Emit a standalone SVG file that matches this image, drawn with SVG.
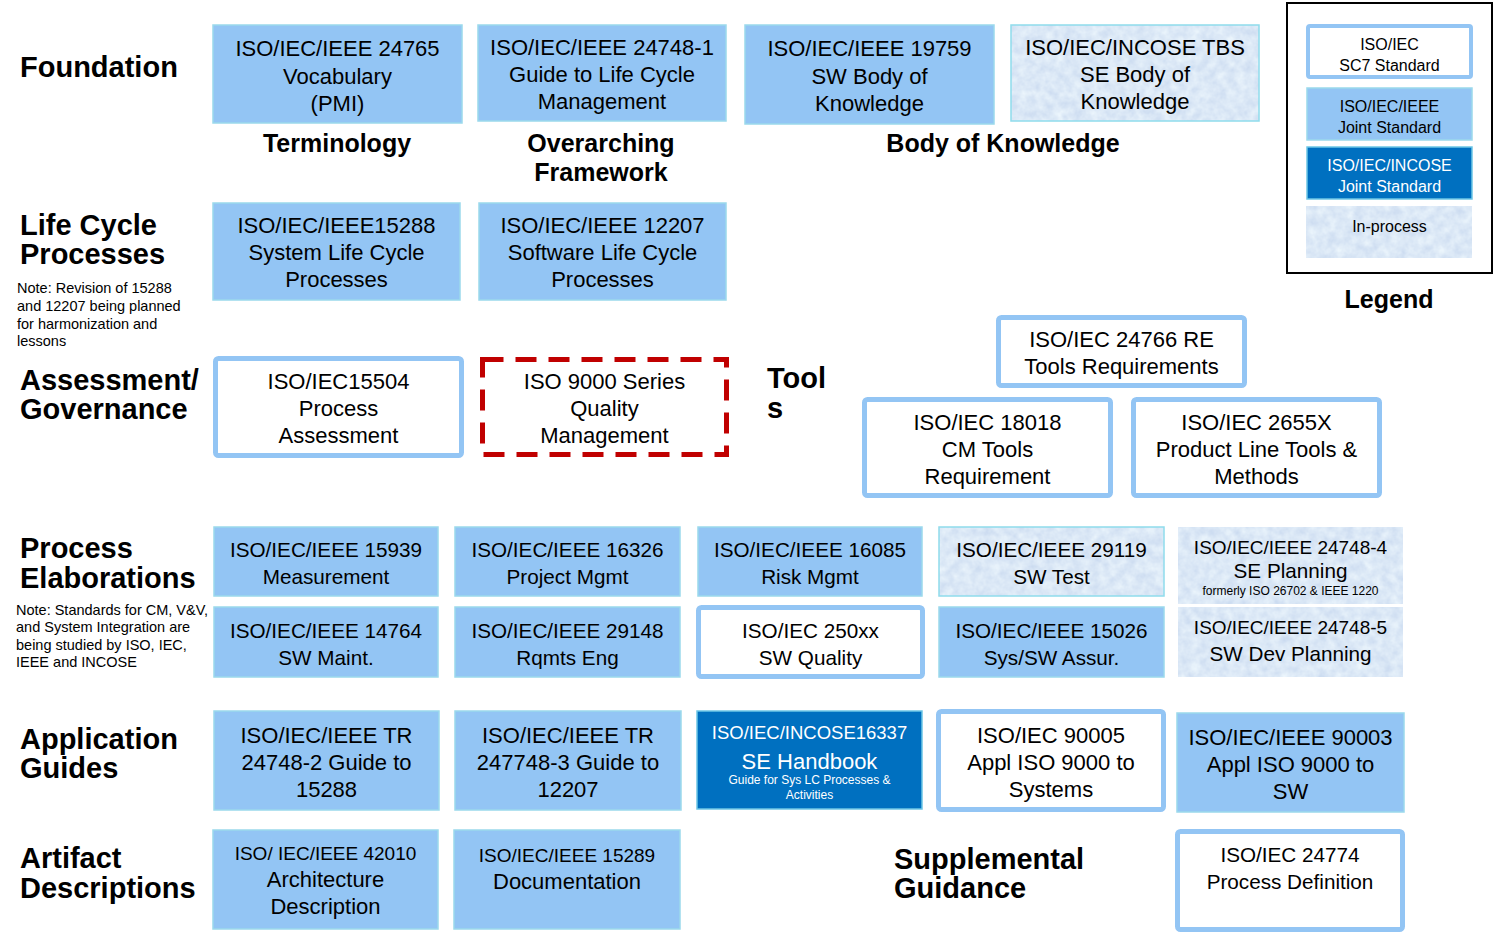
<svg xmlns="http://www.w3.org/2000/svg" width="1495" height="935" viewBox="0 0 1495 935">
<defs>
<style>
.f{fill:#93c5f4;stroke:#9bd9ec;stroke-width:1.5}
.o{fill:#fff;stroke:#93c5f4;stroke-width:5}
.d{fill:#0070c0;stroke:#6cc6e6;stroke-width:1.5}
.pb{fill:none;stroke:#8fdcec;stroke-width:1.5}
.q{fill:#fff;stroke:#c00000;stroke-width:5;stroke-dasharray:21 12}
text{font-family:"Liberation Sans",Arial,Helvetica,sans-serif;fill:#000}
.t{font-size:22px;text-anchor:middle}
.t21{font-size:20.7px;text-anchor:middle}
.t19{font-size:19px;text-anchor:middle}
.s{font-size:12px;text-anchor:middle}
.l{font-size:16px;text-anchor:middle}
.w{fill:#fff}
.h{font-size:29px;font-weight:bold}
.c{font-size:25px;font-weight:bold;text-anchor:middle}
.n{font-size:14.5px}
</style>
<filter id="tex" x="0" y="0" width="1" height="1" color-interpolation-filters="sRGB">
<feTurbulence type="fractalNoise" baseFrequency="0.11" numOctaves="3" seed="7"/>
<feColorMatrix type="matrix" values="0.16 0 0 0 0.78  0.13 0 0 0 0.845  0.06 0 0 0 0.935  0 0 0 0 1"/>
</filter>
</defs>
<rect width="1495" height="935" fill="#fff"/>

<g id="row-labels">
<text class="h" x="20" y="77">Foundation</text>
<text class="h" x="20" y="235">Life Cycle</text>
<text class="h" x="20" y="264">Processes</text>
<text class="n" x="17" y="293">Note: Revision of 15288</text>
<text class="n" x="17" y="311">and 12207 being planned</text>
<text class="n" x="17" y="329">for harmonization and</text>
<text class="n" x="17" y="346">lessons</text>
<text class="h" x="20" y="390">Assessment/</text>
<text class="h" x="20" y="419">Governance</text>
<text class="h" x="20" y="558">Process</text>
<text class="h" x="20" y="588">Elaborations</text>
<text class="n" x="16" y="615">Note: Standards for CM, V&amp;V,</text>
<text class="n" x="16" y="632">and System Integration are</text>
<text class="n" x="16" y="650">being studied by ISO, IEC,</text>
<text class="n" x="16" y="667">IEEE and INCOSE</text>
<text class="h" x="20" y="749">Application</text>
<text class="h" x="20" y="778">Guides</text>
<text class="h" x="20" y="868">Artifact</text>
<text class="h" x="20" y="898">Descriptions</text>
<text class="h" x="767" y="388">Tool</text>
<text class="h" x="767" y="418">s</text>
<text class="h" x="894" y="869">Supplemental</text>
<text class="h" x="894" y="898">Guidance</text>
<text class="c" x="337" y="152">Terminology</text>
<text class="c" x="601" y="152">Overarching</text>
<text class="c" x="601" y="181">Framework</text>
<text class="c" x="1003" y="152">Body of Knowledge</text>
</g>

<g id="connectors"></g>

<g id="n24765"><rect class="f" x="213" y="25" width="249" height="98"/>
<text class="t" x="337.5" y="56">ISO/IEC/IEEE 24765</text><text class="t" x="337.5" y="84">Vocabulary</text><text class="t" x="337.5" y="111">(PMI)</text></g>
<g id="n24748-1"><rect class="f" x="478" y="25" width="248" height="96"/>
<text class="t" x="602" y="55">ISO/IEC/IEEE 24748-1</text><text class="t" x="602" y="82">Guide to Life Cycle</text><text class="t" x="602" y="109">Management</text></g>
<g id="n19759"><rect class="f" x="745" y="25" width="249" height="99"/>
<text class="t" x="869.5" y="56">ISO/IEC/IEEE 19759</text><text class="t" x="869.5" y="84">SW Body of</text><text class="t" x="869.5" y="111">Knowledge</text></g>
<g id="nTBS"><rect x="1011" y="25" width="248" height="96" filter="url(#tex)"/><rect class="pb" x="1011" y="25" width="248" height="96"/>
<text class="t" x="1135" y="55">ISO/IEC/INCOSE TBS</text><text class="t" x="1135" y="82">SE Body of</text><text class="t" x="1135" y="109">Knowledge</text></g>

<g id="legend">
<rect x="1287" y="3" width="205" height="270" fill="none" stroke="#000" stroke-width="2"/>
<rect x="1308" y="26" width="163" height="51" fill="#fff" stroke="#93c5f4" stroke-width="4" rx="2"/>
<text class="l" x="1389.5" y="50">ISO/IEC</text><text class="l" x="1389.5" y="71">SC7 Standard</text>
<rect class="f" x="1307" y="88" width="165" height="52"/>
<text class="l" x="1389.5" y="112">ISO/IEC/IEEE</text><text class="l" x="1389.5" y="133">Joint Standard</text>
<rect class="d" x="1307" y="147" width="165" height="52"/>
<text class="l w" x="1389.5" y="171">ISO/IEC/INCOSE</text><text class="l w" x="1389.5" y="192">Joint Standard</text>
<rect x="1306" y="206" width="166" height="52" filter="url(#tex)"/>
<text class="l" x="1389.5" y="232">In-process</text>
<text class="c" x="1389" y="308">Legend</text>
</g>

<g id="n15288"><rect class="f" x="213" y="203" width="247" height="97"/>
<text class="t" x="336.5" y="233">ISO/IEC/IEEE15288</text><text class="t" x="336.5" y="260">System Life Cycle</text><text class="t" x="336.5" y="287">Processes</text></g>
<g id="n12207"><rect class="f" x="479" y="203" width="247" height="97"/>
<text class="t" x="602.5" y="233">ISO/IEC/IEEE 12207</text><text class="t" x="602.5" y="260">Software Life Cycle</text><text class="t" x="602.5" y="287">Processes</text></g>

<g id="n15504"><rect class="o" x="215.5" y="358.5" width="246" height="97" rx="3"/>
<text class="t" x="338.5" y="389">ISO/IEC15504</text><text class="t" x="338.5" y="416">Process</text><text class="t" x="338.5" y="443">Assessment</text></g>
<g id="n9000"><rect class="q" x="482.5" y="359.5" width="244" height="95"/>
<text class="t" x="604.5" y="389">ISO 9000 Series</text><text class="t" x="604.5" y="416">Quality</text><text class="t" x="604.5" y="443">Management</text></g>

<g id="n24766"><rect class="o" x="998.5" y="317.5" width="246" height="68" rx="3"/>
<text class="t" x="1121.5" y="347">ISO/IEC 24766 RE</text><text class="t" x="1121.5" y="374">Tools Requirements</text></g>
<g id="n18018"><rect class="o" x="864.5" y="399.5" width="246" height="96" rx="3"/>
<text class="t" x="987.5" y="430">ISO/IEC 18018</text><text class="t" x="987.5" y="457">CM Tools</text><text class="t" x="987.5" y="484">Requirement</text></g>
<g id="n2655X"><rect class="o" x="1133.5" y="399.5" width="246" height="96" rx="3"/>
<text class="t" x="1256.5" y="430">ISO/IEC 2655X</text><text class="t" x="1256.5" y="457">Product Line Tools &amp;</text><text class="t" x="1256.5" y="484">Methods</text></g>

<g id="n15939"><rect class="f" x="214" y="527" width="224" height="69"/>
<text class="t21" x="326" y="557">ISO/IEC/IEEE 15939</text><text class="t21" x="326" y="584">Measurement</text></g>
<g id="n16326"><rect class="f" x="455" y="527" width="225" height="69"/>
<text class="t21" x="567.5" y="557">ISO/IEC/IEEE 16326</text><text class="t21" x="567.5" y="584">Project Mgmt</text></g>
<g id="n16085"><rect class="f" x="698" y="527" width="224" height="69"/>
<text class="t21" x="810" y="557">ISO/IEC/IEEE 16085</text><text class="t21" x="810" y="584">Risk Mgmt</text></g>
<g id="n29119"><rect x="939" y="527" width="225" height="69" filter="url(#tex)"/><rect class="pb" x="939" y="527" width="225" height="69"/>
<text class="t21" x="1051.5" y="557">ISO/IEC/IEEE 29119</text><text class="t21" x="1051.5" y="584">SW Test</text></g>
<g id="n24748-4"><rect x="1178" y="527" width="225" height="77" filter="url(#tex)"/>
<text class="t19" x="1290.5" y="554">ISO/IEC/IEEE 24748-4</text><text class="t21" x="1290.5" y="578">SE Planning</text><text class="s" x="1290.5" y="595">formerly ISO 26702 &amp; IEEE 1220</text></g>

<g id="n14764"><rect class="f" x="214" y="607" width="224" height="70"/>
<text class="t21" x="326" y="638">ISO/IEC/IEEE 14764</text><text class="t21" x="326" y="665">SW Maint.</text></g>
<g id="n29148"><rect class="f" x="455" y="607" width="225" height="70"/>
<text class="t21" x="567.5" y="638">ISO/IEC/IEEE 29148</text><text class="t21" x="567.5" y="665">Rqmts Eng</text></g>
<g id="n250xx"><rect class="o" x="698.5" y="607.5" width="224" height="69" rx="3"/>
<text class="t21" x="810.5" y="638">ISO/IEC 250xx</text><text class="t21" x="810.5" y="665">SW Quality</text></g>
<g id="n15026"><rect class="f" x="939" y="607" width="225" height="70"/>
<text class="t21" x="1051.5" y="638">ISO/IEC/IEEE 15026</text><text class="t21" x="1051.5" y="665">Sys/SW Assur.</text></g>
<g id="n24748-5"><rect x="1178" y="607" width="225" height="70" filter="url(#tex)"/>
<text class="t19" x="1290.5" y="634">ISO/IEC/IEEE 24748-5</text><text class="t21" x="1290.5" y="661">SW Dev Planning</text></g>

<g id="n24748-2"><rect class="f" x="214" y="711" width="225" height="99"/>
<text class="t" x="326.5" y="743">ISO/IEC/IEEE TR</text><text class="t" x="326.5" y="770">24748-2 Guide to</text><text class="t" x="326.5" y="797">15288</text></g>
<g id="n247748-3"><rect class="f" x="455" y="711" width="226" height="99"/>
<text class="t" x="568" y="743">ISO/IEC/IEEE TR</text><text class="t" x="568" y="770">247748-3 Guide to</text><text class="t" x="568" y="797">12207</text></g>
<g id="n16337"><rect class="d" x="697" y="711" width="225" height="98"/>
<text class="w" font-size="18.5" text-anchor="middle" x="809.5" y="739">ISO/IEC/INCOSE16337</text><text class="t w" x="809.5" y="769">SE Handbook</text><text class="s w" x="809.5" y="784">Guide for Sys LC Processes &amp;</text><text class="s w" x="809.5" y="799">Activities</text></g>
<g id="n90005"><rect class="o" x="938.5" y="711.5" width="225" height="98" rx="3"/>
<text class="t" x="1051" y="743">ISO/IEC 90005</text><text class="t" x="1051" y="770">Appl ISO 9000 to</text><text class="t" x="1051" y="797">Systems</text></g>
<g id="n90003"><rect class="f" x="1177" y="713" width="227" height="99"/>
<text class="t" x="1290.5" y="745">ISO/IEC/IEEE 90003</text><text class="t" x="1290.5" y="772">Appl ISO 9000 to</text><text class="t" x="1290.5" y="799">SW</text></g>

<g id="n42010"><rect class="f" x="213" y="830" width="225" height="99"/>
<text class="t19" x="325.5" y="860">ISO/ IEC/IEEE 42010</text><text class="t" x="325.5" y="887">Architecture</text><text class="t" x="325.5" y="914">Description</text></g>
<g id="n15289"><rect class="f" x="454" y="830" width="226" height="99"/>
<text class="t19" x="567" y="862">ISO/IEC/IEEE 15289</text><text class="t" x="567" y="889">Documentation</text></g>
<g id="n24774"><rect class="o" x="1177.5" y="831.5" width="225" height="98" rx="3"/>
<text class="t21" x="1290" y="862">ISO/IEC 24774</text><text class="t21" x="1290" y="889">Process Definition</text></g>
</svg>
